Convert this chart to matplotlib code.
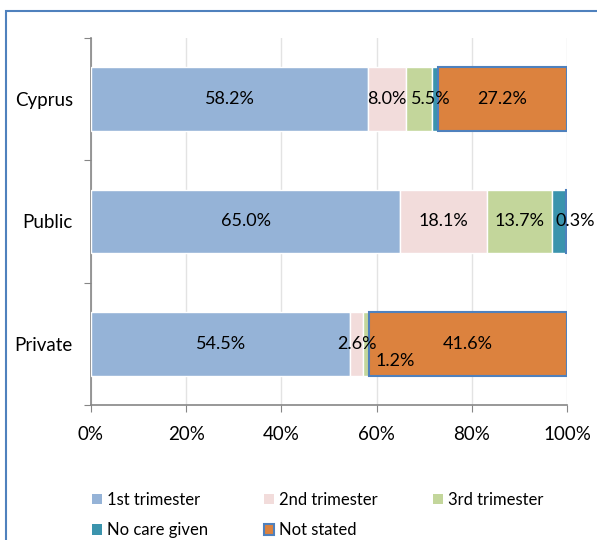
import matplotlib
matplotlib.use("Agg")
import matplotlib.pyplot as plt
from matplotlib.patches import Rectangle, Patch
import numpy as np

plt.rcParams['font.family'] = ['Lato', 'DejaVu Sans']

categories = ["Private", "Public", "Cyprus"]
series_names = ["1st trimester", "2nd trimester", "3rd trimester", "No care given", "Not stated"]
first_tri = [54.5, 65.0, 58.2]
second_tri = [2.6, 18.1, 8.0]
third_tri = [1.2, 13.7, 5.5]
no_care = [0.1, 2.9, 1.1]
not_stated = [41.6, 0.3, 27.2]
x_ticklabels = ["0%", "20%", "40%", "60%", "80%", "100%"]

series = [first_tri, second_tri, third_tri, no_care, not_stated]
colors = ["#95B3D7", "#F2DCDB", "#C3D69B", "#3B94AD", "#DC823E"]
show_label = [True, True, True, False, True]
# label nudges (x in %, y in points) per (series, category)
nudges = {(1, 0): (0, 0), (2, 0): (6.3, -12), (2, 2): (2.5, 0), (4, 1): (1.9, 0)}

fig = plt.figure(figsize=(5.97, 5.40), dpi=100)
ax = fig.add_axes([91/597, 1-405/540, (567-91)/597, (405-38)/540])

y = np.arange(len(categories))
left = np.zeros(len(categories))
for i, (vals, col) in enumerate(zip(series, colors)):
    vals = np.array(vals)
    if i == 4:
        ax.barh(y, vals, left=left, height=0.52, color=col, edgecolor="#4F81BD", linewidth=1.5, zorder=3)
    else:
        ax.barh(y, vals, left=left, height=0.52, color=col, edgecolor="white", linewidth=1.0, zorder=3)
    if show_label[i]:
        for j, v in enumerate(vals):
            dx, dy = nudges.get((i, j), (0, 0))
            ax.annotate(f"{v:.1f}%", xy=(left[j] + v/2 + dx, y[j]), xytext=(0, dy),
                        textcoords="offset points", ha="center", va="center",
                        fontsize=13, color="black", zorder=5, annotation_clip=False)
    left = left + vals

ax.set_xlim(0, 100)
ax.set_ylim(-0.5, 2.5)
ax.set_xticks(np.linspace(0, 100, 6))
ax.set_xticklabels(x_ticklabels, fontsize=13.5)
ax.set_yticks([-0.5, 0.5, 1.5, 2.5])
ax.set_yticklabels([])
ax.set_yticks(y, minor=True)
ax.set_yticklabels(categories, minor=True, fontsize=13.5)
ax.tick_params(axis='y', which='minor', length=0, pad=13)
ax.tick_params(axis='y', which='major', length=5, color="#868686", direction="out")
ax.tick_params(axis='x', length=5, color="#868686", direction="out", pad=10)
ax.grid(axis='x', color="#E3E3E3", linewidth=1, zorder=0)
ax.set_axisbelow(True)
for s in ["top", "right"]:
    ax.spines[s].set_visible(False)
for s in ["left", "bottom"]:
    ax.spines[s].set_color("#868686")
    ax.spines[s].set_linewidth(1.2)

handles = [Patch(facecolor=c, edgecolor=("#4F81BD" if i == 4 else c), linewidth=(1.5 if i == 4 else 0))
           for i, c in enumerate(colors)]
order = [0, 3, 1, 4, 2]
fig.legend([handles[k] for k in order], [series_names[k] for k in order],
           ncol=3, loc="upper left", bbox_to_anchor=(77/597, 1-477/540),
           frameon=False, fontsize=12, handlelength=0.6, handleheight=0.6,
           handletextpad=0.3, columnspacing=3.35, labelspacing=0.85)

fig.patches.append(Rectangle((6/597, -0.1), 1.2, 1-11/540+0.1, transform=fig.transFigure,
                             fill=False, edgecolor="#4F81BD", linewidth=1.5))

fig.savefig("out.png", dpi=100)
